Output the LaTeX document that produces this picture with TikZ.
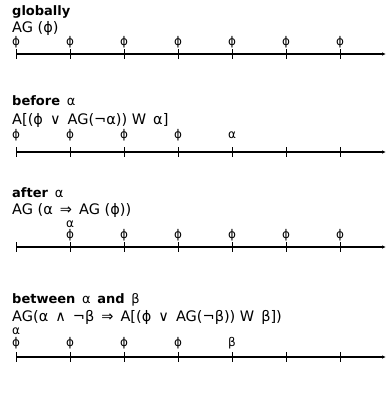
\documentclass[tikz,border=0pt]{standalone}
\usepackage{fontspec}
\setmainfont{DejaVu Sans}
\usetikzlibrary{arrows.meta,positioning}

\begin{document}
\begin{tikzpicture}[x=1pt,y=-1pt,
  title/.style={font=\bfseries\fontsize{13}{15}\selectfont, anchor=base west, inner sep=0pt},
  formula/.style={font=\fontsize{14.5}{16}\selectfont, anchor=base west, inner sep=0pt},
  lbl/.style={font=\fontsize{12}{14}\selectfont, anchor=base, inner sep=0pt},
  axis/.style={line width=1.1pt, -{Latex[length=4pt,width=3.5pt]}},
  tick/.style={line width=1pt}
]
  \useasboundingbox (0,0) rectangle (387,394);

  % globally
  \node[title]   (tglob) at (12,15) {globally};
  \node[formula] (fglob) at (12,32) {AG (ϕ)};
  \foreach \i in {0,...,6} {
    \coordinate (g\i) at ({16+54*\i},54);
    \draw[tick] (g\i) ++(0,-5) -- ++(0,10);
    \node[lbl] (pg\i) at ([yshift=9pt]g\i) {ϕ};
  }
  \coordinate (gend) at (386,54);
  \draw[axis] (g0) -- (gend);

  % before alpha
  \node[title]   (tbef) at (12,105) {before \,{\mdseries α}};
  \node[formula] (fbef) at (12,124) {A[(ϕ \,∨\, AG(¬α)) W \,α]};
  \foreach \i in {0,...,6} {
    \coordinate (b\i) at ({16+54*\i},152);
    \draw[tick] (b\i) ++(0,-5) -- ++(0,10);
  }
  \foreach \i in {0,...,3}
    \node[lbl] (pb\i) at ([yshift=14pt]b\i) {ϕ};
  \node[lbl] (ab) at ([yshift=14pt]b4) {α};
  \coordinate (bend) at (386,152);
  \draw[axis] (b0) -- (bend);

  % after alpha
  \node[title]   (taft) at (12,197) {after \,{\mdseries α}};
  \node[formula] (faft) at (12,214) {AG (α \,⇒\, AG (ϕ))};
  \foreach \i in {0,...,6} {
    \coordinate (f\i) at ({16+54*\i},247);
    \draw[tick] (f\i) ++(0,-5) -- ++(0,10);
  }
  \foreach \i in {1,...,6}
    \node[lbl] (pf\i) at ([yshift=9pt]f\i) {ϕ};
  \node[lbl] (af) at ([yshift=20pt]f1) {α};
  \coordinate (fend) at (386,247);
  \draw[axis] (f0) -- (fend);

  % between alpha and beta
  \node[title]   (tbet) at (12,303) {between \,{\mdseries α}\, and \,{\mdseries β}};
  \node[formula] (fbet) at (12,321) {AG(α \,∧\, ¬β \,⇒\, A[(ϕ \,∨\, AG(¬β)) W \,β])};
  \foreach \i in {0,...,6} {
    \coordinate (w\i) at ({16+54*\i},357);
    \draw[tick] (w\i) ++(0,-5) -- ++(0,10);
  }
  \foreach \i in {0,...,3}
    \node[lbl] (pw\i) at ([yshift=11pt]w\i) {ϕ};
  \node[lbl] (aw) at ([yshift=23pt]w0) {α};
  \node[lbl] (bw) at ([yshift=11pt]w4) {β};
  \coordinate (wend) at (386,357);
  \draw[axis] (w0) -- (wend);
\end{tikzpicture}
\end{document}
